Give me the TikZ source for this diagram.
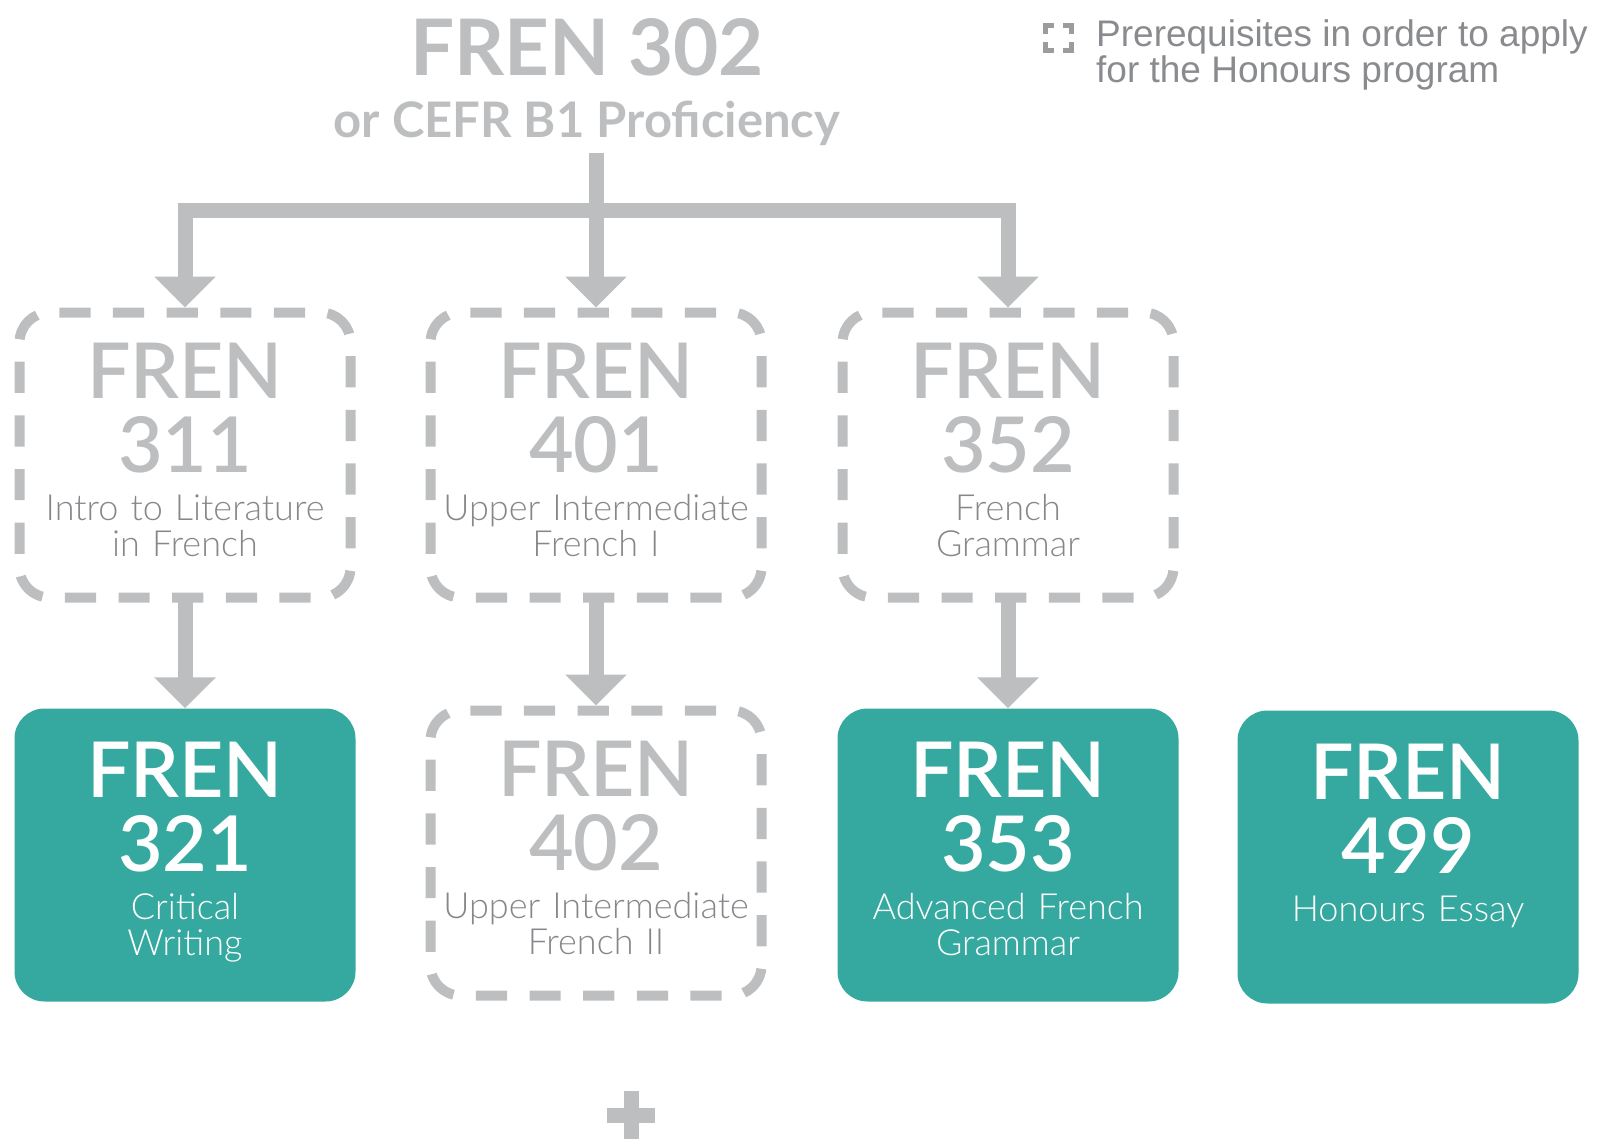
\documentclass[tikz,border=0pt]{standalone}
\usepackage{fontspec}
\setmainfont{Lato}
\newfontfamily\lightfont{Lato Light}
\newfontfamily\legendfont{Liberation Sans}
\usetikzlibrary{arrows.meta,positioning}
\definecolor{frengray}{HTML}{BCBEC0}
\definecolor{frentext}{HTML}{86878A}
\definecolor{frenteal}{HTML}{35A99F}
\definecolor{legendgray}{HTML}{8A8B8E}
\newcommand\numfont{\bfseries\fontsize{77}{74}\selectfont}
\newcommand\descfont{\lightfont\mdseries\fontsize{36}{36}\selectfont}
\newcommand\coursenum[1]{\numfont FREN\\#1\\[12pt]\descfont}
\tikzset{%
  coursebox/.style  = {shape=rectangle, rounded corners=30pt,%
                       minimum width=341pt, minimum height=293pt},%
  core/.style       = {coursebox, fill=frenteal},%
  prereq/.style     = {coursebox, outer sep=0pt,%
                       minimum width=331pt, minimum height=285pt},%
  prereqline/.style = {draw=frengray, line width=10pt, rounded corners=30pt,%
                       dash pattern=on 31.2pt off 22.45pt, dash phase=42.8pt},%
  coursetext/.style = {anchor=north, inner sep=0pt, text width=330pt,%
                       align=center, text=white, font=\descfont},%
  prereqtext/.style = {coursetext, text=frengray},%
  link/.style       = {draw=frengray, line width=15pt,%
                       -{Triangle[width=60pt,length=31pt]}},%
  legendmark/.style = {draw=legendgray!85, line width=5pt}%
}

\begin{document}
\begin{tikzpicture}[x=1pt,y=-1pt,
	every node/.style = {inner sep=0pt}]
	\useasboundingbox (0,0) rectangle (1612,1140);
	% heading
	\node[anchor=base, text=frengray, font=\bfseries\fontsize{78}{78}\selectfont]
		(title) at (587,75) {FREN 302};
	\node[anchor=base, text=frengray, font=\bfseries\fontsize{49}{49}\selectfont]
		(sub) at (587,137) {or CEFR B1 Proficiency};
	% legend
	\draw[legendmark] (1045.5,34) -- (1045.5,25.5) -- (1054,25.5);
	\draw[legendmark] (1063,25.5) -- (1071.5,25.5) -- (1071.5,34);
	\draw[legendmark] (1045.5,42) -- (1045.5,50.5) -- (1054,50.5);
	\draw[legendmark] (1063,50.5) -- (1071.5,50.5) -- (1071.5,42);
	\node[anchor=base west, align=left, text=legendgray,
		font=\legendfont\fontsize{37}{33}\selectfont] (legend) at (1096,82)
		{Prerequisites in order to apply\\for the Honours program};
	% courses
	\node[prereq] (b311) at (185,455) {};
	\node[prereq] (b401) at (596,455) {};
	\node[prereq] (b352) at (1008,455) {};
	\node[core]   (b321) at (185,855) {};
	\node[prereq] (b402) at (596,853) {};
	\node[core]   (b353) at (1008,855) {};
	\node[core]   (b499) at (1408,857) {};
	\foreach \b in {b311,b401,b352,b402}
		\draw[prereqline] (\b.north) -- (\b.north west) -- (\b.south west)
			-- (\b.south east) -- (\b.north east) -- cycle;
	\node[prereqtext] (t311) at ([yshift=-30pt]b311.north)
		{\coursenum{311}\color{frentext}Intro to Literature\\in French};
	\node[prereqtext] (t401) at ([yshift=-30pt]b401.north)
		{\coursenum{401}\color{frentext}Upper Intermediate\\French I};
	\node[prereqtext] (t352) at ([yshift=-30pt]b352.north)
		{\coursenum{352}\color{frentext}French\\Grammar};
	\node[coursetext] (t321) at ([yshift=-34pt]b321.north)
		{\coursenum{321}Critical\\Writing};
	\node[prereqtext] (t402) at ([yshift=-30pt]b402.north)
		{\coursenum{402}\color{frentext}Upper Intermediate\\French II};
	\node[coursetext] (t353) at ([yshift=-34pt]b353.north)
		{\coursenum{353}Advanced French\\Grammar};
	\node[coursetext] (t499) at ([yshift=-34pt]b499.north)
		{\coursenum{499}Honours Essay};
	% arrows
	\coordinate (stem) at ([yshift=-8pt]sub.south);
	\coordinate (fork) at (b401.north |- 0,210);
	\draw[link, shorten >=5pt] (stem -| fork) -- (b401.north);
	\draw[link, shorten >=5pt] (fork) -| (b311.north);
	\draw[link, shorten >=5pt] (fork) -| (b352.north);
	\draw[link] (b311.south) -- (b321.north);
	\draw[link, shorten >=5pt] (b401.south) -- (b402.north);
	\draw[link] (b352.south) -- (b353.north);
	% plus
	\coordinate (plus) at (631,1115);
	\draw[frengray, line width=15pt] (plus) ++(-24,0) -- ++(48,0)
		(plus) ++(0,-24) -- ++(0,48);
\end{tikzpicture}
\end{document}
